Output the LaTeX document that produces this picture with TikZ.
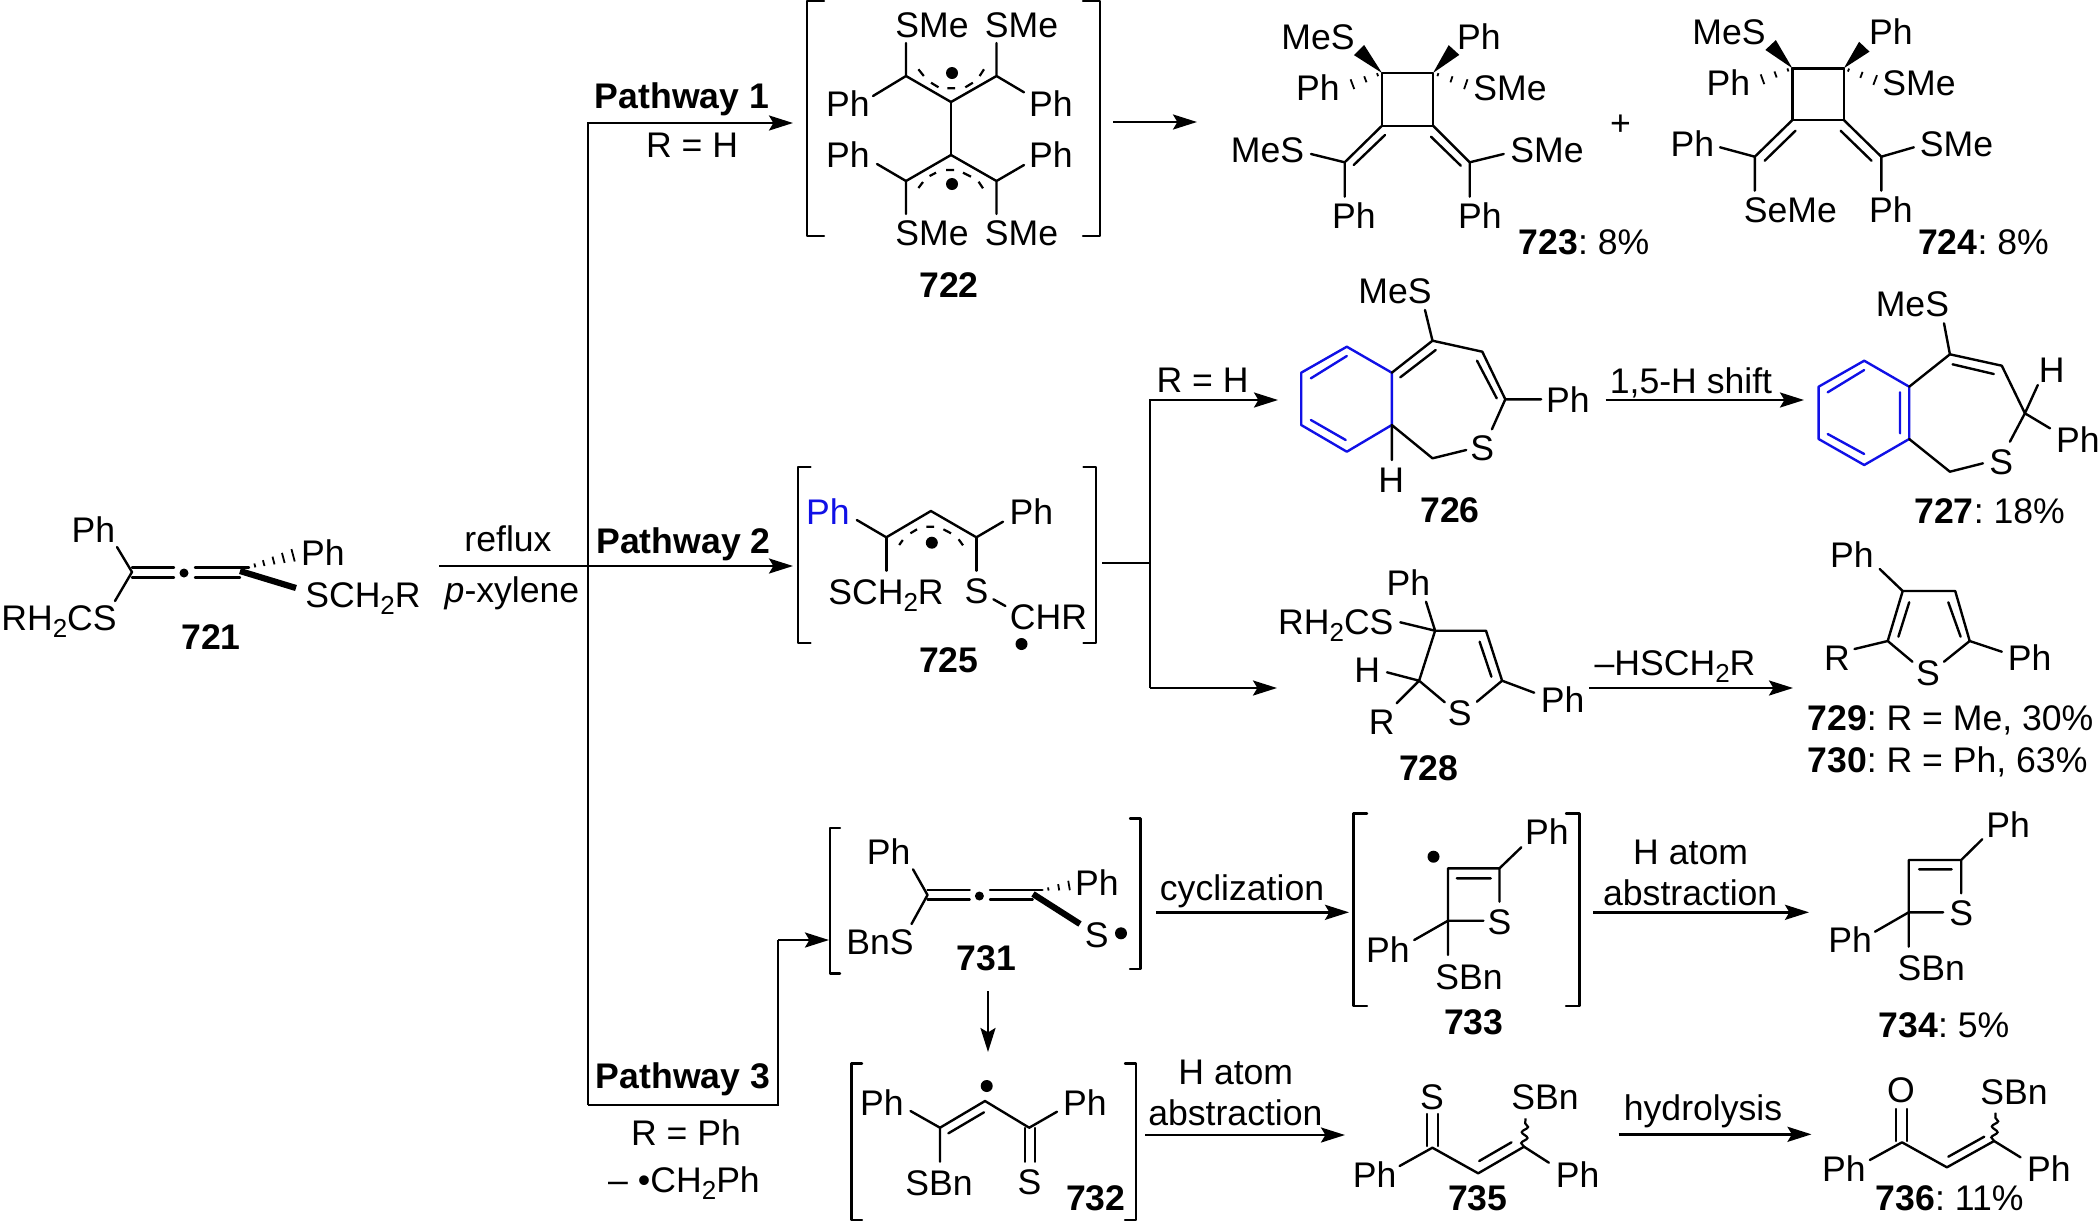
\documentclass[tikz,border=0pt]{standalone}
\usepackage{fontspec}
\setmainfont{Liberation Sans}
\usetikzlibrary{arrows.meta,calc,decorations.pathmorphing}
\definecolor{ringblue}{RGB}{16,16,230}
\frenchspacing
\newcommand\subtwo{\raisebox{-0.38ex}{\fontsize{13}{13}\selectfont 2}}
\newcommand\wedgeb[3]{\fill ($(#2)!#3!90:(#1)$) -- (#1) -- ($(#2)!#3!-90:(#1)$) -- cycle;}
\newcommand\hashb[3]{\foreach \t/\w in {#3}{\draw[hashline] ($(#1)!\t!(#2)!\w pt!90:(#2)$) -- ($(#1)!\t!(#2)!\w pt!-90:(#2)$);}}
\newcommand\raddot[2]{\fill (#1) circle[radius=#2];}
\tikzset{
 txt/.style={inner sep=0pt,text height=12.4pt,text depth=0pt,font=\fontsize{17.8}{20}\selectfont},
 num/.style={inner sep=0pt,text height=12.4pt,text depth=0pt,font=\fontsize{17.8}{20}\selectfont\bfseries},
 bond/.style={line width=1.2pt,line cap=round,line join=round},
 bluebond/.style={bond,draw=ringblue},
 boldbond/.style={line width=3.1pt},
 hashline/.style={line width=0.9pt},
 deloc/.style={line width=1.1pt},
 rxn/.style={line width=1.3pt,-{Stealth[length=12pt,width=7.5pt,inset=2.2pt]}},
 plainline/.style={line width=1.3pt,line join=miter},
 wavy/.style={line width=1.1pt,decorate,decoration={snake,amplitude=1.5pt,segment length=5.5pt}}
}
\begin{document}
\begin{tikzpicture}[x=0.5pt,y=-0.5pt]
\useasboundingbox (0,0) rectangle (2100,1222);
% ---------- routing coordinates
\coordinate (r0) at (439,566);
\coordinate (r1) at (793,566);
\coordinate (top) at (588,123);
\coordinate (topend) at (793,123);
\coordinate (bot) at (588,1105);
\coordinate (botr) at (778,1105);
\coordinate (up3) at (778,940);
\coordinate (end3) at (829,940);
\coordinate (s0) at (1102,563);
\coordinate (s1) at (1150,563);
\coordinate (s2) at (1150,400);
\coordinate (s3) at (1150,688);
\coordinate (s2e) at (1278,400);
\coordinate (s3e) at (1277,688);
\draw[rxn] (r0) -- (r1);
\draw[rxn] (bot) -- (top) -- (topend);
\draw[plainline] (bot) -- (botr) -- (up3);
\draw[rxn] (up3) -- (end3);
\draw[plainline] (s0) -- (s1);
\draw[rxn] (s3) -- (s3e);
\draw[rxn] (s3) -- (s2) -- (s2e);
% ---------- 721
\node[txt] (a1) at (93.5,530) {Ph};
\node[txt] (a2) at (59,618) {RH\subtwo CS};
\node[txt] (a3) at (323,553) {Ph};
\node[txt] (a4) at (363,595) {SCH\subtwo R};
\node[num] (a5) at (211,637) {721};
\draw[bond] (117,547) -- (132,572) -- (115,601);
\draw[bond] (132,567.5) -- (174,567.5) (132,577.5) -- (174,577.5);
\draw[bond] (195,567.5) -- (249,567.5) (195,577.5) -- (240,577.5);
\raddot{184,573}{4.5}
\hashb{249,567}{298,554}{.12/1,.3/1.5,.5/2,.7/2.6,.9/3.2}
\draw[boldbond] (240,571) -- (296,588);
\node[txt] (c1) at (508,539) {reflux};
\node[txt] (c2) at (512,590) {\textit{p}-xylene};
\node[num] (c3) at (683.5,541) {Pathway 2};
\node[num] (c4) at (682,96) {Pathway 1};
\node[txt] (c5) at (692,145) {R = H};
\node[num] (c6) at (683,1076) {Pathway 3};
\node[txt] (c7) at (686,1133) {R = Ph};
\node[txt] (c8) at (684,1180) {– •CH\subtwo Ph};
% ---------- 722
\draw[bond] (824,1) -- (807,1) -- (807,236) -- (824,236);
\draw[bond] (1083,1) -- (1100,1) -- (1100,236) -- (1083,236);
\node[txt] (b1) at (932,25) {SMe};
\node[txt] (b2) at (1021.5,25) {SMe};
\node[txt] (b3) at (848,104) {Ph};
\node[txt] (b4) at (1051,104) {Ph};
\node[txt] (b5) at (848,155) {Ph};
\node[txt] (b6) at (1051,155) {Ph};
\node[txt] (b7) at (932,233) {SMe};
\node[txt] (b8) at (1021.5,233) {SMe};
\node[num] (b9) at (949,285) {722};
\draw[bond] (906,43) -- (906,76) -- (873,96) (906,76) -- (951,102) -- (996.5,76) -- (1024,92.3) (996.5,76) -- (996.5,43);
\draw[bond] (951,102) -- (951,155);
\draw[bond] (906,214) -- (906,181) -- (877,164) (906,181) -- (951,155) -- (996.5,181) -- (1024,165) (996.5,181) -- (996.5,214);
\draw[deloc] (918.4,69.3) -- (923.8,76) (931,82.7) -- (938.5,87.3) (947.4,88.3) -- (955,88.3) (965.3,87.3) -- (972.9,82.7) (979.6,76) -- (984,69.3);
\draw[deloc] (918.4,188) -- (923,182) (929.6,176) -- (936,172.7) (946,170) -- (954,170) (963,172.7) -- (971,176.7) (978.6,181.7) -- (983,188.3);
\raddot{952,73}{6}
\raddot{952,184}{6}
\coordinate (b10) at (1113,122);
\coordinate (b11) at (1197,122);
\draw[rxn] (b10) -- (b11);
% ---------- 723
\node[txt] (d1) at (1318,37) {MeS};
\node[txt] (d2) at (1479,37) {Ph};
\node[txt] (d3) at (1318,88) {Ph};
\node[txt] (d4) at (1510,88) {SMe};
\node[txt] (d5) at (1267.5,150) {MeS};
\node[txt] (d6) at (1547,150) {SMe};
\node[txt] (d7) at (1354,216.5) {Ph};
\node[txt] (d8) at (1480,216.5) {Ph};
\node (d9) [txt] at (1584,242.5) {\textbf{723}: 8\%};
\draw[bond] (1382,73) rectangle (1433,125.7);
\wedgeb{1382,73}{1359,50}{3.6pt}
\wedgeb{1433,73}{1454,50}{3.6pt}
\hashb{1382,73}{1345,87}{.12/0.8,.45/1.6,.8/2.6}
\hashb{1433,73}{1474,87}{.12/0.8,.45/1.6,.8/2.6}
\draw[bond] (1382,125.7) -- (1344.7,162.3) -- (1311,154) (1344.7,162.3) -- (1344.7,196.7);
\draw[bond] (1385,135) -- (1353.7,165);
\draw[bond] (1433,125.7) -- (1469.7,162.3) -- (1503.7,154) (1469.7,162.3) -- (1469.7,196.7);
\draw[bond] (1431,136.7) -- (1460.8,165.7);
\node[txt] (plus) at (1620.4,123) {+};
% ---------- 724
\node[txt] (e1) at (1729,31.7) {MeS};
\node[txt] (e2) at (1891,31.7) {Ph};
\node[txt] (e3) at (1728.3,82.7) {Ph};
\node[txt] (e4) at (1919,82.7) {SMe};
\node[txt] (e5) at (1692.3,144.3) {Ph};
\node[txt] (e6) at (1956.5,144.3) {SMe};
\node[txt] (e7) at (1790.4,210) {SeMe};
\node[txt] (e8) at (1891,210) {Ph};
\node[txt] (e9) at (1983.5,242.5) {\textbf{724}: 8\%};
\draw[bond] (1792.4,68.3) rectangle (1843.8,120);
\wedgeb{1792.4,68.3}{1770.6,45}{3.6pt}
\wedgeb{1843.8,68.3}{1864.3,46.7}{3.6pt}
\hashb{1792.4,68.3}{1755,82}{.12/0.8,.45/1.6,.8/2.6}
\hashb{1843.8,68.3}{1883,83}{.12/0.8,.45/1.6,.8/2.6}
\draw[bond] (1792.4,120) -- (1754.8,156.7) -- (1720,147.3) (1754.8,156.7) -- (1754.8,190.7);
\draw[bond] (1795.5,130.7) -- (1764.7,160.7);
\draw[bond] (1843.8,120) -- (1881.3,156.7) -- (1913.8,147.3) (1881.3,156.7) -- (1881.3,190.7);
\draw[bond] (1840.6,130.7) -- (1871.5,160.7);
% ---------- 725
\draw[bond] (810.5,466.7) -- (798,466.7) -- (798,642.7) -- (810.5,642.7);
\draw[bond] (1083.5,466.7) -- (1096,466.7) -- (1096,642.7) -- (1083.5,642.7);
\node[txt,text=ringblue] (f1) at (828,512.3) {Ph};
\node[txt] (f2) at (1031.3,512.3) {Ph};
\node[txt] (f3) at (886,591.7) {SCH\subtwo R};
\node[txt] (f4) at (976.4,590.7) {S};
\node[txt] (f5) at (1048.5,616.7) {CHR};
\node[num] (f6) at (948.8,660) {725};
\draw[bond] (856.8,520) -- (886.3,537.3) -- (930.9,511) -- (976.4,537.3) -- (1003,521.7);
\draw[bond] (886.3,537.3) -- (886.3,570.7) (976.4,537.3) -- (976.4,570.7);
\draw[bond] (993.4,599.3) -- (1005.4,606);
\draw[deloc] (899.2,545) -- (902.8,540) (910.4,533.3) -- (917,529.3) (926.4,526.7) -- (934,526.7) (943.4,529.3) -- (951,533.3) (958.6,539.3) -- (963,545.3);
\raddot{931.8,542.7}{6}
\raddot{1021.5,644}{6}
% ---------- 726
\draw[bluebond] (1346.8,346.7) -- (1391.8,372.7) -- (1391.8,425) -- (1346.8,451.7) -- (1301.2,425) -- (1301.2,372.7) -- cycle;
\draw[bluebond] (1310.9,378.3) -- (1346.8,356) (1310.9,420) -- (1345.7,440);
\node[txt] (g1) at (1395,290.7) {MeS};
\node[txt] (g2) at (1568,400) {Ph};
\node[txt] (g3) at (1482.3,448.3) {S};
\node[txt] (g4) at (1391.2,480) {H};
\node[num] (g5) at (1450,510) {726};
\draw[bond] (1425,310) -- (1432.5,340.7) -- (1391.8,372.7) (1400.3,377.3) -- (1435.7,350);
\draw[bond] (1432.5,340.7) -- (1482.3,351.7) -- (1505.3,399.3) -- (1541.2,399.3) (1477,360.7) -- (1496.7,398.3) (1505.3,399.3) -- (1491.9,429.3);
\draw[bond] (1391.8,425) -- (1432.5,458.3) -- (1466.2,450) (1391.8,425) -- (1391.8,460);
\coordinate (g6) at (1605.5,400);
\coordinate (g7) at (1804,400);
\draw[rxn] (g6) -- (g7);
\node[txt] (g8) at (1691,381) {1,5-H shift};
\node[txt] (g9) at (1202.6,380) {R = H};
% ---------- 727
\draw[bluebond] (1864.2,360.7) -- (1909.2,386.7) -- (1909.2,439) -- (1864.2,465) -- (1818.6,439) -- (1818.6,386.7) -- cycle;
\draw[bluebond] (1827.7,392.3) -- (1864.2,370) (1900,392.3) -- (1900,433.3) (1827.7,434) -- (1864.2,454);
\node[txt] (h1) at (1912.4,304.3) {MeS};
\node[txt] (h2) at (2051.6,370) {H};
\node[txt] (h3) at (2078,440) {Ph};
\node[txt] (h4) at (2001.2,461.7) {S};
\node[txt] (h5) at (1989.6,510.7) {\textbf{727}: 18\%};
\draw[bond] (1944,323.3) -- (1949.9,354.3) -- (1909.2,386.7);
\draw[bond] (1949.9,354.3) -- (2001.8,365.7) -- (2024.9,413.3) -- (2037.8,385) (1952.6,364.3) -- (1993.8,374);
\draw[bond] (2024.9,413.3) -- (2050,428.3) (2024.9,413.3) -- (2009.9,441.7);
\draw[bond] (1909.2,439) -- (1949.9,471.7) -- (1983,463.3);
% ---------- 728
\node[txt] (i1) at (1408.4,583.3) {Ph};
\node[txt] (i2) at (1335.8,621.7) {RH\subtwo CS};
\node[txt] (i3) at (1367.1,670) {H};
\node[txt] (i4) at (1381.6,721.7) {R};
\node[txt] (i5) at (1459.8,713.3) {S};
\node[txt] (i6) at (1562.6,700) {Ph};
\node[num] (i7) at (1428.7,767.7) {728};
\draw[bond] (1426,601.7) -- (1435.1,630.7) -- (1400.3,622.3) (1435.1,630.7) -- (1486,630.7) -- (1502.1,680.7) -- (1476.9,701.7);
\draw[bond] (1435.1,630.7) -- (1419.1,680.7) -- (1387,672.3) (1419.1,680.7) -- (1396.6,703.3) (1419.1,680.7) -- (1444.8,702.3);
\draw[bond] (1479.6,641.7) -- (1491.4,676.7) (1502.1,680.7) -- (1534.2,692.7);
\coordinate (i8) at (1589,688);
\coordinate (i9) at (1793,688);
\draw[rxn] (i8) -- (i9);
\node[txt] (i10) at (1675,663) {–HSCH\subtwo R};
% ---------- 729/730
\node[txt] (j1) at (1851.9,555) {Ph};
\node[txt] (j2) at (1836.9,658) {R};
\node[txt] (j3) at (2029.7,658) {Ph};
\node[txt] (j4) at (1927.9,673.3) {S};
\node[txt,anchor=west] (j5) at (1807,718.3) {\textbf{729}: R = Me, 30\%};
\node[txt,anchor=west] (j6) at (1807,760) {\textbf{730}: R = Ph, 63\%};
\draw[bond] (1879.7,569) -- (1902.7,591) -- (1955.2,591) -- (1969.7,641) -- (1944,661.7);
\draw[bond] (1902.7,591) -- (1887.7,641) -- (1912.4,661.7) (1887.7,641) -- (1854.5,649) (1969.7,641) -- (2001.8,651.7);
\draw[bond] (1909.2,602.3) -- (1898.4,636.7) (1948.3,602.3) -- (1960.6,636.7);
% ---------- 731
\draw[bond] (840,827.7) -- (830,827.7) -- (830,973.3) -- (840,973.3);
\draw[bond] (1130,818.3) -- (1140.3,818.3) -- (1140.3,969) -- (1130,969);
\node[txt] (k1) at (888.7,851.7) {Ph};
\node[txt] (k2) at (880,941.7) {BnS};
\node[txt] (k3) at (1097,882.7) {Ph};
\node[txt] (k4) at (1096.7,935) {S};
\node[num] (k5) at (986.6,958.3) {731};
\draw[bond] (913,869.3) -- (927.5,895) -- (911.5,924);
\draw[bond] (927.5,890) -- (969.7,890) (927.5,899.3) -- (969.7,899.3);
\draw[bond] (990,890) -- (1042.4,890) (990,899.3) -- (1032.7,899.3);
\raddot{979.4,896}{4.5}
\raddot{1121,933.3}{6}
\hashb{1042.4,890}{1072,885}{.2/0.8,.55/1.6,.9/2.4}
\draw[boldbond] (1033,894) -- (1080,924);
\coordinate (k6) at (988,991);
\coordinate (k7) at (988,1052);
\draw[rxn] (k6) -- (k7);
\coordinate (k8) at (1156,912.3);
\coordinate (k9) at (1349,912.3);
\draw[rxn] (k8) -- (k9);
\node[txt] (k10) at (1242,888) {cyclization};
% ---------- 733
\draw[bond] (1367,813.3) -- (1353.6,813.3) -- (1353.6,1006) -- (1367,1006);
\draw[bond] (1566,813.3) -- (1579.6,813.3) -- (1579.6,1006) -- (1566,1006);
\node[txt] (l1) at (1547,831.7) {Ph};
\node[txt] (l2) at (1499.5,921.7) {S};
\node[txt] (l3) at (1388,950) {Ph};
\node[txt] (l4) at (1469,976.7) {SBn};
\node[num] (l5) at (1473.8,1022) {733};
\draw[bond] (1521.3,847.3) -- (1499.5,868.3) -- (1448,868.3) -- (1448,955) (1499.5,868.3) -- (1499.5,901.7);
\draw[bond] (1448,920.7) -- (1483.5,920.7) (1448,920.7) -- (1414.2,940) (1456.8,878.3) -- (1490.8,878.3);
\raddot{1433.5,856.7}{6}
\node[txt] (l6) at (1690.6,851.7) {H atom};
\node[txt] (l7) at (1690.2,893) {abstraction};
\coordinate (l8) at (1593,912.3);
\coordinate (l9) at (1809,912.3);
\draw[rxn] (l8) -- (l9);
% ---------- 734
\node[txt] (m1) at (2008.2,825) {Ph};
\node[txt] (m2) at (1961.2,913.3) {S};
\node[txt] (m3) at (1850.2,940) {Ph};
\node[txt] (m4) at (1931.3,968.3) {SBn};
\node[txt] (m5) at (1944,1025) {\textbf{734}: 5\%};
\draw[bond] (1982.2,839.3) -- (1961.2,860) -- (1908.7,860) -- (1908.7,946.7) (1961.2,860) -- (1961.2,893.3);
\draw[bond] (1908.7,912.3) -- (1943.2,912.3) (1908.7,912.3) -- (1875,931.7) (1919,869.3) -- (1951.6,869.3);
% ---------- 732
\draw[bond] (862,1063.3) -- (851.6,1063.3) -- (851.6,1220) -- (862,1220);
\draw[bond] (1125,1063.3) -- (1135.7,1063.3) -- (1135.7,1220) -- (1125,1220);
\node[txt] (n1) at (881.9,1102.7) {Ph};
\node[txt] (n2) at (1085,1102.7) {Ph};
\node[txt] (n3) at (939,1183.3) {SBn};
\node[txt] (n4) at (1029.6,1181.7) {S};
\node[num] (n5) at (1095.7,1197.7) {732};
\draw[bond] (910.5,1111) -- (940,1127.7) -- (985,1101) -- (1029.2,1127.7) -- (1057,1111.7);
\draw[bond] (948.4,1133.3) -- (984,1112.3) (940,1127.7) -- (940,1161.7);
\draw[bond] (1025,1128) -- (1025,1161.7) (1035,1128) -- (1035,1161.7);
\raddot{986.7,1086}{6}
\node[txt] (n6) at (1235.8,1071.7) {H atom};
\node[txt] (n7) at (1235.4,1113) {abstraction};
\coordinate (n8) at (1145,1135);
\coordinate (n9) at (1345,1135);
\draw[rxn] (n8) -- (n9);
% ---------- 735
\node[txt] (o1) at (1432,1096.7) {S};
\node[txt] (o2) at (1374.7,1175) {Ph};
\node[txt] (o3) at (1544.9,1096.7) {SBn};
\node[txt] (o4) at (1577.7,1175) {Ph};
\node[num] (o5) at (1477.7,1198.3) {735};
\draw[bond] (1427,1114) -- (1427,1146) (1438,1114) -- (1438,1146);
\draw[bond] (1399.6,1166) -- (1432.4,1147.7) -- (1478.2,1173.3) -- (1524,1146.7) -- (1548.9,1162.7);
\draw[bond] (1479.2,1161) -- (1511.5,1142.3);
\draw[wavy] (1524,1146.7) -- (1525.5,1118.3);
\coordinate (o6) at (1618.5,1134.3);
\coordinate (o7) at (1811.5,1134.3);
\draw[rxn] (o6) -- (o7);
\node[txt] (o8) at (1703,1108) {hydrolysis};
% ---------- 736
\node[txt] (q1) at (1901,1090) {O};
\node[txt] (q2) at (1843.9,1169.3) {Ph};
\node[txt] (q3) at (2014,1091.7) {SBn};
\node[txt] (q4) at (2048.9,1169.3) {Ph};
\node[txt] (q5) at (1949.6,1198.3) {\textbf{736}: 11\%};
\draw[bond] (1896,1109) -- (1896,1141) (1907,1109) -- (1907,1141);
\draw[bond] (1869.8,1160) -- (1902,1142.3) -- (1946.9,1167.3) -- (1994.1,1141) -- (2020.5,1157.3);
\draw[bond] (1948.3,1156.7) -- (1984.2,1136.7);
\draw[wavy] (1994.1,1141) -- (1995.6,1112.7);
\end{tikzpicture}
\end{document}
